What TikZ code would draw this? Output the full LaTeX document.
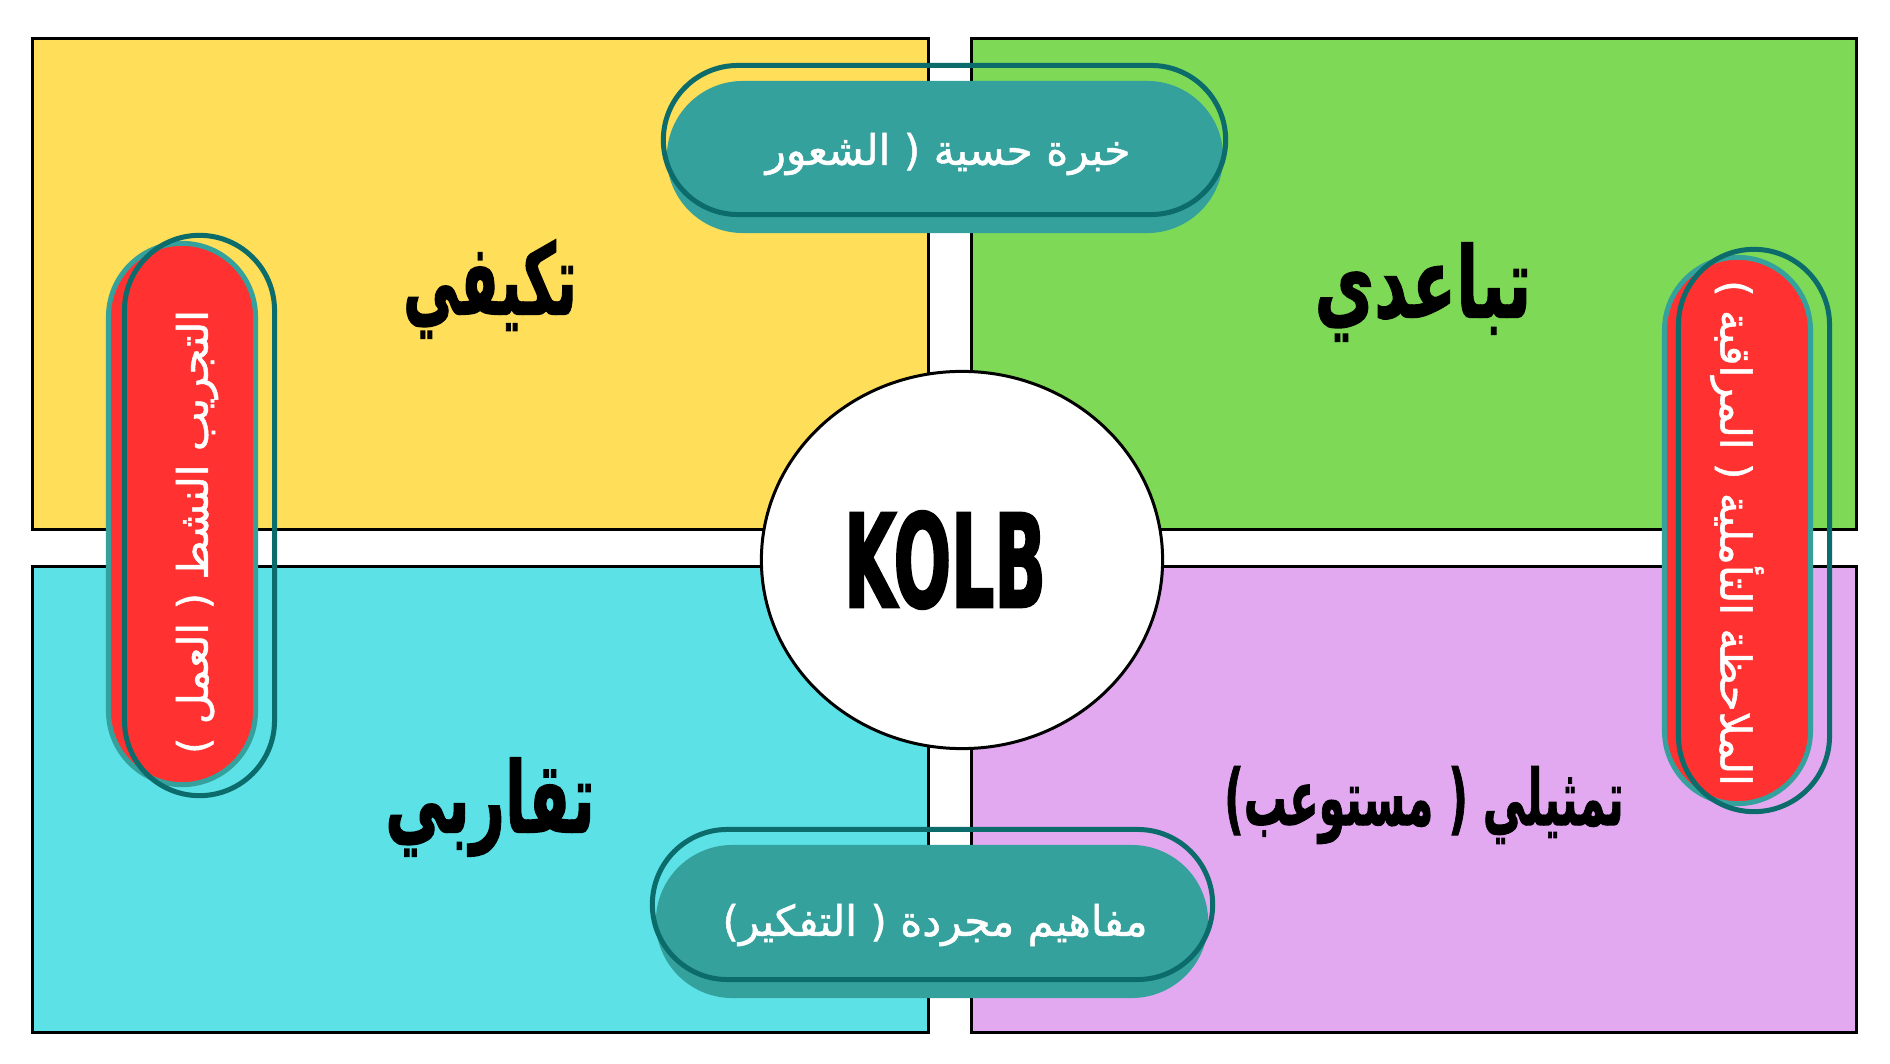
\documentclass[tikz,border=0pt]{standalone}
\usepackage{fontspec}
\usetikzlibrary{shapes.misc,shapes.geometric}
\TeXXeTstate=1
\newfontfamily\labelfont[Script=Arabic, FakeBold=1.5]{DejaVu Sans}
\newfontfamily\pillfont[Script=Arabic, FakeBold=1.2]{DejaVu Sans}
\newfontfamily\kolbfont[FakeStretch=0.52, FakeBold=1.5]{DejaVu Sans}
\newcommand{\squeeze}[2]{\scalebox{#1}[1]{#2}}
\definecolor{kyellow}{HTML}{FFDE59}
\definecolor{kgreen}{HTML}{7ED957}
\definecolor{kcyan}{HTML}{5CE1E6}
\definecolor{kpurple}{HTML}{E2A9F1}
\definecolor{kred}{HTML}{FF3131}
\definecolor{kteal}{HTML}{35A19D}
\definecolor{kdark}{HTML}{0C6B6B}

\begin{document}
\begin{tikzpicture}[x=0.01cm, y=-0.01cm,
    quad/.style = {draw=black, line width=0.03cm},
    hub/.style = {ellipse, draw=black, line width=0.03cm, fill=white,
      minimum width=4.01cm, minimum height=3.77cm, inner sep=0pt},
    pillfill/.style = {rounded rectangle, fill=kteal, inner sep=0pt},
    pillline/.style = {rounded rectangle, draw=kdark, line width=0.05cm, inner sep=0pt},
    sidefill/.style = {rounded rectangle, fill=kred, draw=kteal, line width=0.05cm, inner sep=0pt},
    pilltext/.style = {text=white, inner sep=0pt, font=\pillfont\fontsize{12}{14}\selectfont},
    quadlabel/.style = {inner sep=0pt, font=\labelfont\bfseries\fontsize{28}{32}\selectfont}]
  \useasboundingbox (0,0) rectangle (1890,1064);
  \fill[white] (0,0) rectangle (1890,1064);

  % four quadrants
  \draw[quad, fill=kyellow] (32.5,38.5) rectangle (928,530);
  \draw[quad, fill=kgreen]  (971,38.5) rectangle (1856.5,530);
  \draw[quad, fill=kcyan]   (32.5,567) rectangle (928,1032.5);
  \draw[quad, fill=kpurple] (971,567) rectangle (1856.5,1032.5);

  \node[quadlabel] (adapt)    at (490,289)  {\squeeze{0.57}{\beginR تكيفي\endR}};
  \node[quadlabel] (diverge)  at (1423,292) {\squeeze{0.66}{\beginR تباعدي\endR}};
  \node[quadlabel] (converge) at (490,807)  {\squeeze{0.62}{\beginR تقاربي\endR}};
  \node[quadlabel, font=\labelfont\bfseries\fontsize{22}{26}\selectfont] (assim) at (1424,805)
    {\squeeze{0.555}{\beginR تمثيلي ( مستوعب)\endR}};

  % centre
  \node[hub] (hub) at (962,560) {};
  \node[inner sep=0pt, font=\kolbfont\bfseries\fontsize{37}{40}\selectfont] (kolb) at (945,560) {KOLB};

  % top and bottom pills
  \node[pillfill, minimum width=5.56cm, minimum height=1.52cm] (feelshade) at (945,157) {};
  \node[pillline, minimum width=5.62cm, minimum height=1.49cm] (feel) at (944.5,140) {};
  \node[pilltext] (feeltext) at (948,154) {\beginR خبرة حسية ( الشعور\endR};

  \node[pillfill, minimum width=5.52cm, minimum height=1.53cm] (thinkshade) at (932,921.5) {};
  \node[pillline, minimum width=5.60cm, minimum height=1.50cm] (think) at (932.5,904.5) {};
  \node[pilltext] (thinktext) at (935,925) {\beginR مفاهيم مجردة ( التفكير)\endR};

  % side pills
  \node[sidefill, rotate=90, minimum width=5.41cm, minimum height=1.47cm] (doshade) at (182,514) {};
  \node[pillline, rotate=90, minimum width=5.60cm, minimum height=1.50cm] (do) at (199.5,515.5) {};
  \node[pilltext, rotate=90] (dotext) at (197,532) {\beginR التجريب النشط ( العمل )\endR};

  \node[sidefill, rotate=-90, minimum width=5.46cm, minimum height=1.46cm] (watchshade) at (1737.5,530.5) {};
  \node[pillline, rotate=-90, minimum width=5.62cm, minimum height=1.51cm] (watch) at (1754,530.5) {};
  \node[pilltext, rotate=-90] (watchtext) at (1737,533) {\beginR الملاحظة التأملية ( المراقبة )\endR};
\end{tikzpicture}
\end{document}
